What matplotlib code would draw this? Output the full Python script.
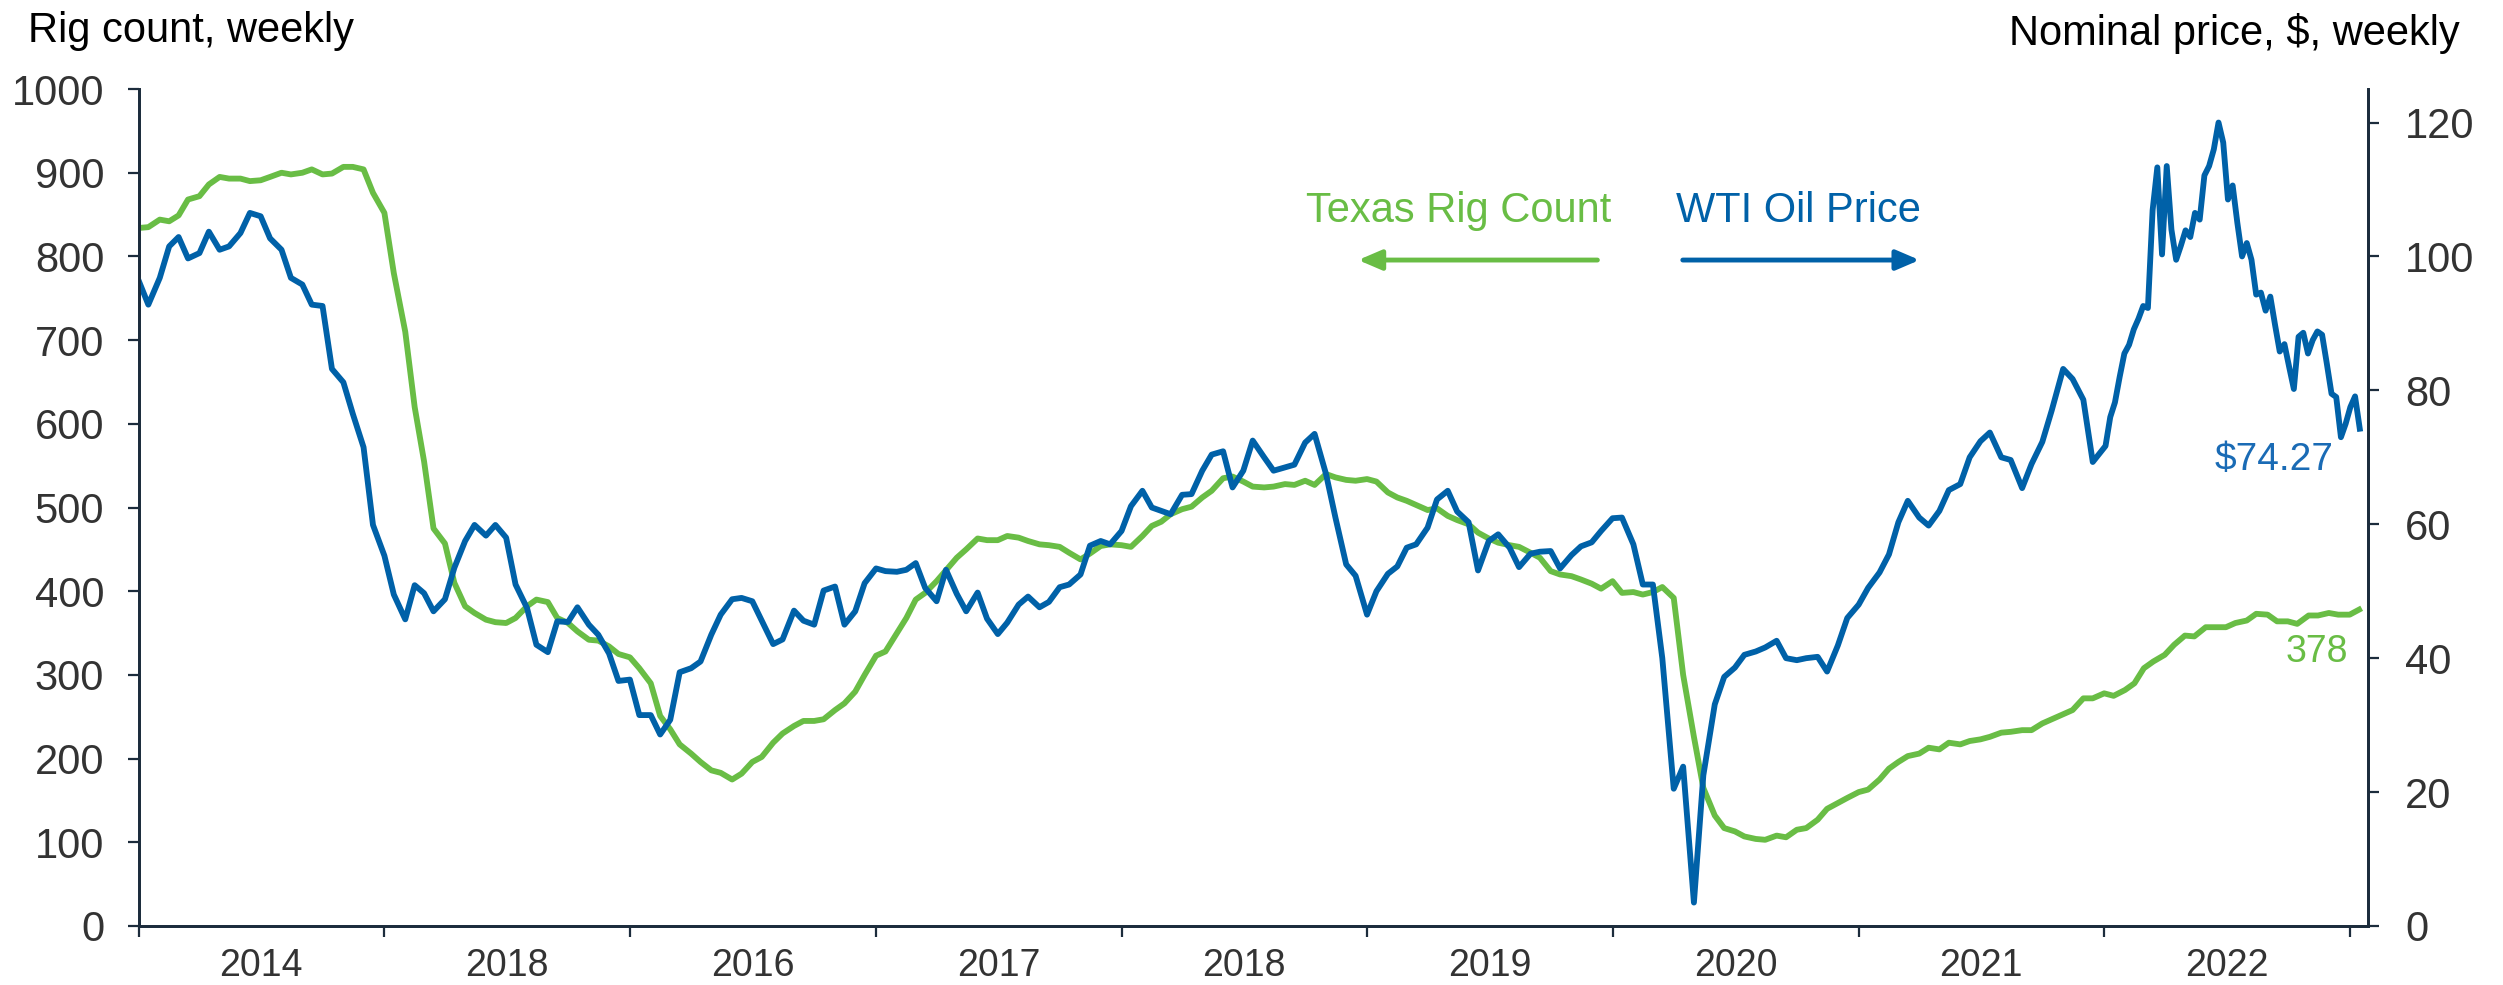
import numpy as np
import pandas as pd
import matplotlib
matplotlib.use("Agg")
import matplotlib.pyplot as plt
from matplotlib.patches import FancyArrowPatch

plt.rcParams['font.family'] = ['Liberation Sans', 'DejaVu Sans']

# Texas rig count, read twice a month (1st and 15th), Jan 2014 - Jan 2023
rig_count = [
    834, 835, 844, 842, 849, 868, 872, 886, 895, 893, 893, 890, 891, 895, 900, 898,
    900, 904, 898, 899, 907, 907, 904, 876, 852, 780, 710, 620, 555, 475, 457, 410,
    382, 374, 366, 363, 362, 368, 382, 390, 387,
    368, 362, 352, 342, 341, 334, 325, 321, 308, 290, 251, 235, 217, 206, 196, 186,
    183, 175, 182, 196, 202, 219, 230, 239, 245, 245, 247, 258, 266, 280, 300, 323,
    328, 350, 368, 390, 398, 412, 425,
    440, 450, 463, 461, 461, 466, 464, 460, 456, 455, 453, 446, 438, 445, 454, 456,
    455, 453, 466, 478, 483, 492, 498, 501, 512, 520, 535, 537, 531, 525, 524, 525,
    528, 527, 532, 527, 540, 536, 533,
    532, 534, 531, 518, 512, 508, 503, 497, 499, 490, 485, 480, 470, 463, 458, 455,
    453, 446, 440, 424, 420, 418, 414, 409, 403, 412, 398, 399, 396, 399, 405, 392,
    300, 226, 165, 132, 117, 113, 107,
    104, 103, 108, 106, 115, 117, 127, 140, 147, 153, 160, 163, 175, 188, 196, 203,
    206, 213, 211, 219, 217, 221, 223, 226, 231, 232, 234, 234, 242, 247, 253, 258,
    272, 272, 278, 275, 282, 290, 308,
    316, 324, 336, 347, 346, 357, 357, 357, 362, 365, 373, 372, 364, 364, 361, 371,
    371, 374, 372, 372, 378,
]
rig_dates = pd.date_range('2014-01-01', periods=len(rig_count), freq='SMS')

# WTI price, twice a month Jan 2014 - Dec 2021
wti_semi = [
    96.3, 92.8, 96.8, 101.5, 102.9, 99.7, 100.5, 103.7, 101.0, 101.5, 103.5, 106.5,
    106.0, 102.7, 101.0, 96.8, 95.8, 92.8, 92.6, 83.2, 81.2, 76.5, 71.5, 59.9,
    55.3, 49.5, 45.8, 50.9, 49.7, 47.0, 48.8, 53.5, 57.5, 59.9, 58.3, 59.9,
    58.0, 51.0, 47.5, 42.0, 40.9,
    45.5, 45.4, 47.6, 45.0, 43.5, 40.7, 36.6, 36.8, 31.5, 31.5, 28.6, 30.8,
    37.9, 38.5, 39.5, 43.5, 46.5, 48.8, 49.0, 48.5, 45.6, 42.1, 42.8, 47.1,
    45.6, 45.0, 50.1, 50.7, 45.0, 47.0, 51.2, 53.4, 53.0, 52.9, 53.2, 54.2,
    50.5, 48.5, 53.2,
    49.6, 47.0, 49.8, 45.9, 43.6, 45.3, 48.0, 49.2, 47.6, 48.4, 50.6, 51.0,
    52.5, 56.8, 57.5, 57.0, 59.0, 62.7, 65.0, 62.5, 62.0, 61.5, 64.4, 64.5,
    68.0, 70.4, 70.9, 65.5, 68.0, 72.5, 70.0, 68.0, 68.5, 68.9, 72.2, 73.5,
    67.5, 61.0, 54.0,
    52.3, 46.5, 50.0, 52.6, 53.7, 56.5, 57.0, 59.5, 63.7, 65.0, 61.9, 60.3,
    53.1, 57.5, 58.5, 56.5, 53.6, 55.6, 55.9, 56.0, 53.4, 55.4, 56.7, 57.3,
    59.0, 60.9, 61.0, 57.0, 51.0, 51.0, 40.0, 20.5, 23.8, 3.5, 22.5, 33.1,
    37.2, 38.6, 40.5,
    41.0, 41.6, 42.6, 40.0, 39.7, 40.0, 40.2, 38.0, 41.9, 46.0, 48.0, 50.5,
    52.8, 55.5, 60.3, 63.5, 61.0, 59.8, 62.0, 65.1, 66.0, 70.0, 72.4, 73.7,
    70.0, 69.6, 65.4, 69.0, 72.3, 77.0, 83.2, 81.7, 78.6, 69.3,
]
# WTI price, weekly Jan 2022 - Jan 2023
wti_weekly = [
    71.7, 76.0, 78.2, 82.0, 85.5, 86.8, 89.1, 90.7, 92.6, 92.3, 106.9, 113.3,
    100.3, 113.5, 104.0, 99.5, 101.6, 103.9, 102.9, 106.5, 105.5, 112.1, 113.5, 116.0,
    120.0, 117.0, 108.5, 110.6, 105.0, 100.0, 102.0, 99.5, 94.3, 94.6, 91.9, 94.0,
    89.8, 85.8, 86.9, 83.5, 80.2, 88.0, 88.6, 85.5, 87.5, 88.8, 88.3, 84.0,
    79.5, 79.0, 73.0, 75.0, 77.5, 79.1, 74.27,
]
wti = wti_semi + wti_weekly
wti_dates = rig_dates[:len(wti_semi)].append(
    pd.date_range('2022-01-03', periods=len(wti_weekly), freq='7D'))

year_labels = ['2014', '2018', '2016', '2017', '2018', '2019', '2020', '2021', '2022']

green = '#69bd45'
blue = '#0061a8'
axis_col = '#1c2c3c'
text_col = '#333333'

fig = plt.figure(figsize=(25.03, 9.85), dpi=100)
ax = fig.add_axes([0.0555, 0.0599, 0.8905, 0.8497])
ax2 = ax.twinx()

ax.plot(rig_dates, rig_count, color=green, lw=4.2, solid_joinstyle='round')
ax2.plot(wti_dates, wti, color=blue, lw=4.2, solid_joinstyle='round')

ax.set_ylim(0, 1000)
ax2.set_ylim(0, 125)
ax.set_xlim(pd.Timestamp('2014-01-01'), pd.Timestamp('2023-01-28'))

ax.set_yticks(np.arange(0, 1001, 100))
ax2.set_yticks(np.arange(0, 121, 20))

years = pd.date_range('2014-01-01', '2023-01-01', freq='YS')
mids = [pd.Timestamp(f'{y}-07-02') for y in range(2014, 2023)]
ax.set_xticks(years)
ax.set_xticklabels([])
ax.set_xticks(mids, minor=True)
ax.set_xticklabels(year_labels, minor=True)

for a in (ax, ax2):
    a.spines['top'].set_visible(False)
    for s in ('left', 'right', 'bottom'):
        a.spines[s].set_color(axis_col)
        a.spines[s].set_linewidth(2)

ax.tick_params(axis='y', direction='out', length=8, width=1.6, color=axis_col,
               labelsize=30, labelcolor=text_col, pad=17)
ax2.tick_params(axis='y', direction='out', length=8, width=1.6, color=axis_col,
                labelsize=30, labelcolor=text_col, pad=19)
ax.tick_params(axis='x', which='major', direction='out', length=8, width=1.6, color=axis_col)
ax.tick_params(axis='x', which='minor', length=0, labelsize=27, labelcolor=text_col, pad=16)

fig.text(0.0112, 0.9574, 'Rig count, weekly', fontsize=30, color='black', va='baseline')
fig.text(0.9828, 0.9543, 'Nominal price, $, weekly', fontsize=30, color='black',
         va='baseline', ha='right')

# legend-like labels with arrows
fig.text(0.5218, 0.7746, 'Texas Rig Count', fontsize=30, color=green, va='baseline')
fig.text(0.6696, 0.7746, 'WTI Oil Price', fontsize=30, color=blue, va='baseline')
fig.patches.append(FancyArrowPatch((0.6393, 0.736), (0.5415, 0.736), transform=fig.transFigure,
                                   arrowstyle='-|>,head_length=0.7,head_width=0.3',
                                   mutation_scale=20, color=green, lw=3.5))
fig.patches.append(FancyArrowPatch((0.6712, 0.736), (0.7680, 0.736), transform=fig.transFigure,
                                   arrowstyle='-|>,head_length=0.7,head_width=0.3',
                                   mutation_scale=20, color=blue, lw=3.5))

# end-of-series labels
ax2.annotate(f'${wti[-1]:.2f}', xy=(wti_dates[-1], wti[-1]), xytext=(-18.7, -29.5),
             textcoords='offset points', ha='right', va='baseline', fontsize=28, color='#1a6bb5')
ax.annotate(f'{rig_count[-1]}', xy=(rig_dates[-1], rig_count[-1]), xytext=(-8, -38),
            textcoords='offset points', ha='right', va='baseline', fontsize=27, color=green)

fig.savefig('out.png', dpi=100)
